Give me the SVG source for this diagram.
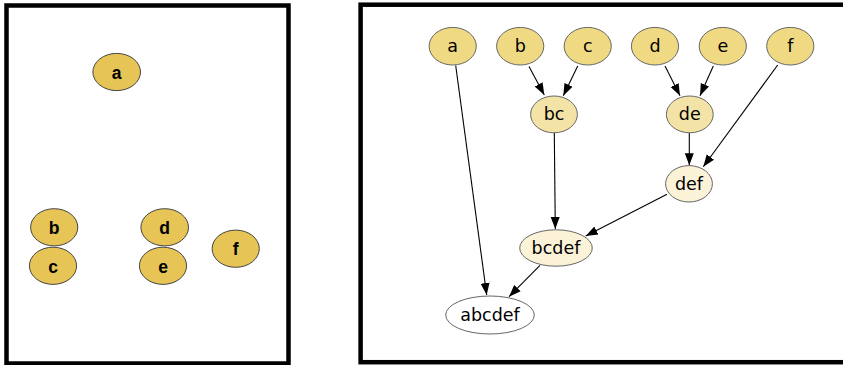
<svg xmlns="http://www.w3.org/2000/svg" width="843" height="365" viewBox="0 0 843 365">
  <style>
    .frame { fill: #ffffff; stroke: #000000; stroke-width: 4.5; }
    .leaf-l { fill: #E6C556; stroke: #444444; stroke-width: 1; }
    .lbl-l { font-family: "Liberation Sans", Arial, sans-serif; font-weight: bold; font-size: 17.5px; fill: #000; text-anchor: middle; dominant-baseline: central; }
    .n { stroke: #666666; stroke-width: 1; }
    .lv0 { fill: #F0D983; }
    .lv1 { fill: #F4E3A6; }
    .lv2 { fill: #FBF2D8; }
    .lv3 { fill: #FFFFFF; }
    .lbl { font-family: "DejaVu Sans", Verdana, sans-serif; font-size: 17.5px; fill: #000; text-anchor: middle; dominant-baseline: central; }
    .edge { stroke: #000000; stroke-width: 1.1; fill: none; marker-end: url(#arrow); }
  </style>
  <defs>
    <marker id="arrow" markerUnits="userSpaceOnUse" markerWidth="13" markerHeight="11" viewBox="0 0 13 11" refX="12" refY="5.5" orient="auto">
      <path d="M0,1 L12,5.5 L0,10 Z" fill="#000"/>
    </marker>
  </defs>

  <!-- left panel: unconnected leaves -->
  <rect class="frame" x="6.5" y="5.5" width="282" height="358"/>
  <g id="l-a"><ellipse class="leaf-l" cx="116.7" cy="72" rx="23.8" ry="18.6"/><text class="lbl-l" x="116.7" y="72.5">a</text></g>
  <g id="l-b"><ellipse class="leaf-l" cx="54.2" cy="227.3" rx="23.6" ry="18.6"/><text class="lbl-l" x="54.2" y="228">b</text></g>
  <g id="l-c"><ellipse class="leaf-l" cx="53" cy="265.8" rx="23.6" ry="18.6"/><text class="lbl-l" x="53" y="266.5">c</text></g>
  <g id="l-d"><ellipse class="leaf-l" cx="164.7" cy="227.3" rx="23.8" ry="18.6"/><text class="lbl-l" x="164.7" y="228">d</text></g>
  <g id="l-e"><ellipse class="leaf-l" cx="163" cy="265.8" rx="23.6" ry="18.6"/><text class="lbl-l" x="163" y="266.5">e</text></g>
  <g id="l-f"><ellipse class="leaf-l" cx="235.7" cy="248.7" rx="23.6" ry="18.6"/><text class="lbl-l" x="235.7" y="249">f</text></g>

  <!-- right panel: merge tree -->
  <rect class="frame" x="360.6" y="4.7" width="500" height="357.5"/>

  <g id="edges">
    <line class="edge" x1="455.7" y1="65.5" x2="486.7" y2="295"/>
    <line class="edge" x1="529" y1="66.5" x2="544.3" y2="95"/>
    <line class="edge" x1="577.7" y1="66" x2="563.3" y2="95.7"/>
    <line class="edge" x1="665" y1="66" x2="680" y2="95.7"/>
    <line class="edge" x1="713.3" y1="66" x2="700" y2="95.7"/>
    <line class="edge" x1="777.7" y1="65" x2="703.3" y2="166.7"/>
    <line class="edge" x1="689.3" y1="133" x2="689.3" y2="165.3"/>
    <line class="edge" x1="554.3" y1="133" x2="555.3" y2="229"/>
    <line class="edge" x1="667" y1="194.3" x2="585.7" y2="236"/>
    <line class="edge" x1="540" y1="265.3" x2="509" y2="296.7"/>
  </g>

  <g id="a"><ellipse class="n lv0" cx="452.7" cy="46.2" rx="23.6" ry="18.8"/><text class="lbl" x="452.7" y="46">a</text></g>
  <g id="b"><ellipse class="n lv0" cx="520.2" cy="46.2" rx="23.6" ry="18.8"/><text class="lbl" x="520.2" y="46">b</text></g>
  <g id="c"><ellipse class="n lv0" cx="587.7" cy="46.2" rx="23.6" ry="18.8"/><text class="lbl" x="587.7" y="46">c</text></g>
  <g id="d"><ellipse class="n lv0" cx="655" cy="46.2" rx="23.6" ry="18.8"/><text class="lbl" x="655" y="46">d</text></g>
  <g id="e"><ellipse class="n lv0" cx="722.8" cy="46.2" rx="23.6" ry="18.8"/><text class="lbl" x="722.8" y="46">e</text></g>
  <g id="f"><ellipse class="n lv0" cx="790.3" cy="46.2" rx="23.6" ry="18.8"/><text class="lbl" x="790.3" y="46">f</text></g>
  <g id="bc"><ellipse class="n lv1" cx="554" cy="114.4" rx="23.4" ry="18.4"/><text class="lbl" x="554" y="114.4">bc</text></g>
  <g id="de"><ellipse class="n lv1" cx="689.8" cy="114.4" rx="23.4" ry="18.4"/><text class="lbl" x="689.8" y="114.4">de</text></g>
  <g id="def"><ellipse class="n lv2" cx="689" cy="183.8" rx="23.4" ry="18.2"/><text class="lbl" x="689" y="183.8">def</text></g>
  <g id="bcdef"><ellipse class="n lv2" cx="556" cy="248" rx="36.3" ry="18.2"/><text class="lbl" x="556" y="248">bcdef</text></g>
  <g id="abcdef"><ellipse class="n lv3" cx="490" cy="315" rx="44.3" ry="19"/><text class="lbl" x="490" y="315">abcdef</text></g>
</svg>
